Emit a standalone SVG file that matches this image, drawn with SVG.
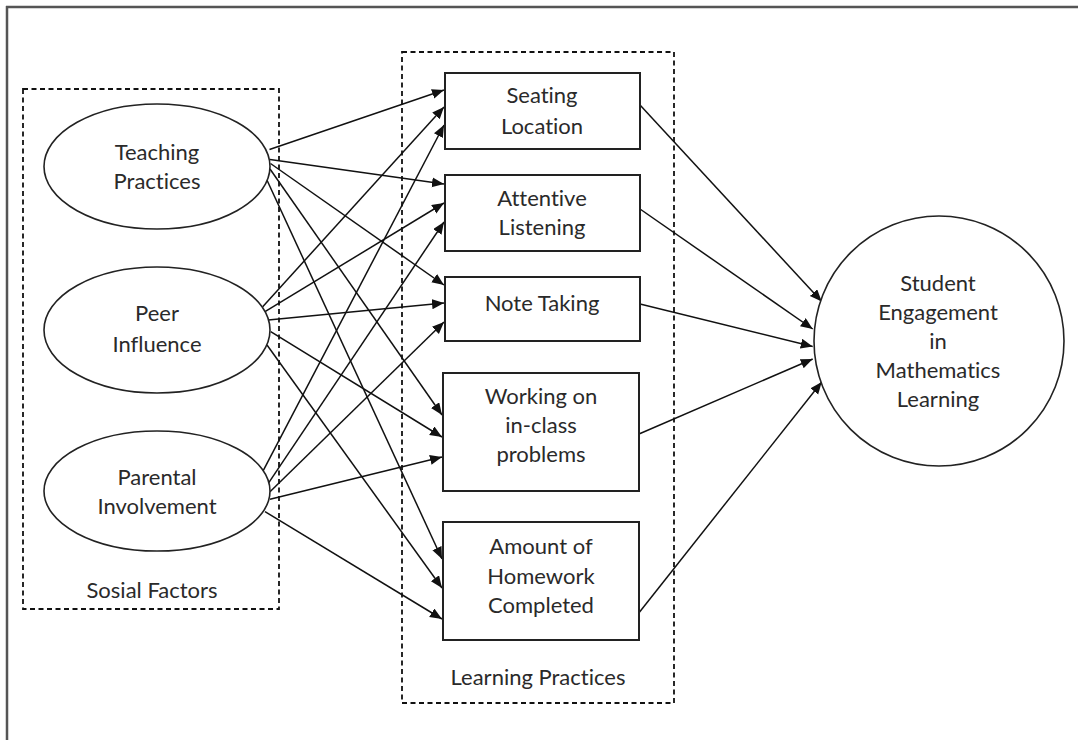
<svg xmlns="http://www.w3.org/2000/svg" width="1078" height="740" viewBox="0 0 1078 740">
<defs>
<marker id="ah" markerUnits="userSpaceOnUse" markerWidth="13" markerHeight="11" refX="12" refY="5" orient="auto">
<path d="M0,0 L12,5 L0,10 z" fill="#111"/>
</marker>
<style>
text{font-family:"Lato","Liberation Sans",sans-serif;font-size:22px;fill:#2a2a2a;text-anchor:middle;font-variant-ligatures:none;font-feature-settings:"liga" 0,"clig" 0}
.node{fill:#fff;stroke:#222;stroke-width:1.6}
.box{fill:#fff;stroke:#222;stroke-width:2}
.grp{fill:none;stroke:#111;stroke-width:1.8;stroke-dasharray:5 3.5}
.c line{stroke:#111;stroke-width:1.5;marker-end:url(#ah)}
</style>
</defs>
<rect width="1078" height="740" fill="#fff"/>
<g id="frame">
<line x1="6" y1="7" x2="1078" y2="7" stroke="#555" stroke-width="2.5"/>
<line x1="7" y1="6" x2="7" y2="740" stroke="#555" stroke-width="2.5"/>
</g>
<g id="social-factors">
<rect class="grp" x="23" y="89" width="256" height="520"/>
<text x="152" y="598">Sosial Factors</text>
</g>
<g id="learning-practices">
<rect class="grp" x="402" y="52" width="272" height="651"/>
<text x="538" y="685">Learning Practices</text>
</g>
<g class="c" id="connectors">
<line x1="269.5" y1="149.5" x2="444" y2="90"/>
<line x1="270" y1="159.5" x2="444" y2="184"/>
<line x1="270.5" y1="163.5" x2="444" y2="285"/>
<line x1="270" y1="169" x2="442" y2="415"/>
<line x1="266" y1="178" x2="442" y2="559"/>
<line x1="262.7" y1="306.7" x2="444" y2="107"/>
<line x1="265" y1="311.7" x2="444" y2="203"/>
<line x1="268.3" y1="320" x2="444" y2="303"/>
<line x1="270.7" y1="331.7" x2="442" y2="437"/>
<line x1="267" y1="345" x2="442" y2="588"/>
<line x1="262.7" y1="471.7" x2="444" y2="125"/>
<line x1="268.3" y1="483.3" x2="444" y2="222"/>
<line x1="270" y1="491.7" x2="444" y2="322"/>
<line x1="270" y1="499.3" x2="442" y2="457"/>
<line x1="265" y1="511.7" x2="442" y2="619"/>
<line x1="640" y1="105" x2="821.7" y2="301.5"/>
<line x1="640" y1="209" x2="812.7" y2="329"/>
<line x1="640" y1="304" x2="812.7" y2="346.5"/>
<line x1="639" y1="434" x2="812.7" y2="359"/>
<line x1="639" y1="612.7" x2="821.7" y2="382"/>
</g>
<g id="teaching-practices">
<ellipse class="node" cx="157" cy="166.5" rx="113" ry="62.5"/>
<text x="157" y="159.5">Teaching</text>
<text x="157" y="188.5">Practices</text>
</g>
<g id="peer-influence">
<ellipse class="node" cx="157" cy="330" rx="113" ry="63"/>
<text x="157" y="320.7">Peer</text>
<text x="157" y="351.7">Influence</text>
</g>
<g id="parental-involvement">
<ellipse class="node" cx="157" cy="491" rx="113" ry="60"/>
<text x="157" y="485">Parental</text>
<text x="157" y="514">Involvement</text>
</g>
<g id="seating-location">
<rect class="box" x="445" y="73" width="195" height="76"/>
<text x="542" y="103.3">Seating</text>
<text x="542" y="134.3">Location</text>
</g>
<g id="attentive-listening">
<rect class="box" x="445" y="175" width="195" height="76"/>
<text x="542" y="205.7">Attentive</text>
<text x="542" y="235">Listening</text>
</g>
<g id="note-taking">
<rect class="box" x="445" y="277" width="195" height="64"/>
<text x="542" y="310.7">Note Taking</text>
</g>
<g id="working-on-in-class-problems">
<rect class="box" x="443" y="373" width="196" height="118"/>
<text x="541" y="403.5">Working on</text>
<text x="541" y="432.5">in-class</text>
<text x="541" y="461.5">problems</text>
</g>
<g id="amount-of-homework-completed">
<rect class="box" x="443" y="522" width="196" height="118"/>
<text x="541" y="554">Amount of</text>
<text x="541" y="584">Homework</text>
<text x="541" y="613">Completed</text>
</g>
<g id="student-engagement">
<circle class="node" cx="939" cy="341" r="125"/>
<text x="938" y="291">Student</text>
<text x="938" y="320">Engagement</text>
<text x="938" y="349">in</text>
<text x="938" y="378">Mathematics</text>
<text x="938" y="407">Learning</text>
</g>
</svg>
